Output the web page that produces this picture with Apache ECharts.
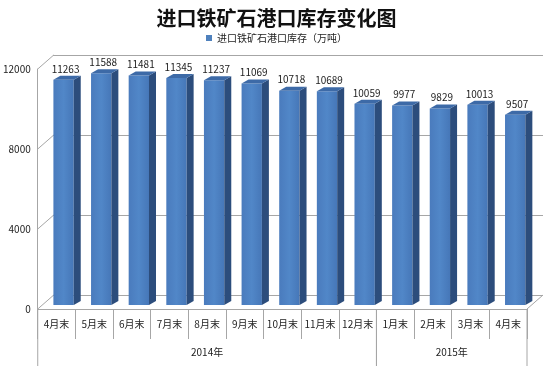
<!DOCTYPE html>
<html><head><meta charset="utf-8">
<script src="https://cdn.jsdelivr.net/npm/echarts@6/dist/echarts.min.js"></script>
<style>html,body{margin:0;padding:0;background:#fff}#c{width:553px;height:366px}</style>
</head><body><div id="c"></div>
<script>
var months = ['4月末','5月末','6月末','7月末','8月末','9月末','10月末','11月末','12月末','1月末','2月末','3月末','4月末'];
var values = [11263,11588,11481,11345,11237,11069,10718,10689,10059,9977,9829,10013,9507];
var years = ['2014年','2015年'];
var yearSpans = [[0,0,9],[9,0,13]];
var yTicks = [0,4000,8000,12000];
var seriesName = '进口铁矿石港口库存（万吨）';
var FONT = '"Noto Sans CJK SC", "Noto Sans", sans-serif';
var DX = 16, DY = -14;      // wall depth
var BX = 7, BY = -4;        // bar plane offset
var SX = 7, SY = -4;        // bar side depth
var grey = '#a6a6a6';

var chart = echarts.init(document.getElementById('c'));
chart.setOption({
  animation: false,
  backgroundColor: '#fff',
  textStyle: {fontFamily: FONT},
  title: {text: '进口铁矿石港口库存变化图', left: 'center', top: 3,
    textStyle: {fontSize: 20, fontWeight: 'bold', color: '#111', fontFamily: FONT}},
  legend: {top: 28, left: 'center', itemWidth: 6, itemHeight: 6, icon: 'rect',
    data: [seriesName], textStyle: {fontSize: 10, color: '#222', fontFamily: FONT}},
  grid: [
    {left: 37, right: 26, top: 69, bottom: 57},
    {left: 53, right: 10, top: 55, bottom: 71}
  ],
  xAxis: [
    {type: 'category', gridIndex: 0, data: months, boundaryGap: true,
     axisLine: {show: true, lineStyle: {color: grey}},
     axisTick: {show: true, interval: 0, length: 30, lineStyle: {color: grey}},
     axisLabel: {interval: 0, fontSize: 10, color: '#222', margin: 10, fontFamily: FONT},
     splitLine: {show: false}},
    {type: 'category', gridIndex: 1, data: months, show: false}
  ],
  yAxis: [
    {type: 'value', gridIndex: 0, min: 0, max: 12000, interval: 4000,
     axisLine: {show: true, lineStyle: {color: grey}},
     axisTick: {show: false},
     axisLabel: {fontSize: 10, color: '#222', margin: 7, fontFamily: FONT,
       formatter: function(v){return String(v);}},
     splitLine: {show: false}},
    {type: 'value', gridIndex: 1, min: 0, max: 12000, interval: 4000,
     axisLine: {show: false}, axisTick: {show: false}, axisLabel: {show: false},
     splitLine: {show: true, lineStyle: {color: grey, width: 1}}}
  ],
  series: [
    {
      type: 'custom', name: 'frame', xAxisIndex: 0, yAxisIndex: 0, silent: true, z: 1,
      data: yTicks.map(function(v){return [0, v];}),
      encode: {x: 0, y: 1},
      renderItem: function(params, api) {
        var cs = params.coordSys;
        var y = api.coord([0, api.value(1)])[1];
        var kids = [{type: 'line', shape: {x1: cs.x, y1: y, x2: cs.x + DX, y2: y + DY},
          style: {stroke: grey, lineWidth: 1}}];
        if (api.value(1) === 0) {
          kids.push({type: 'line', shape: {x1: cs.x + cs.width, y1: y, x2: cs.x + cs.width + DX, y2: y + DY},
            style: {stroke: grey, lineWidth: 1}});
        }
        return {type: 'group', children: kids};
      }
    },
    {
      type: 'custom', name: 'years', xAxisIndex: 0, yAxisIndex: 0, silent: true, z: 1,
      data: yearSpans, encode: {x: 0, y: 1},
      renderItem: function(params, api) {
        var cs = params.coordSys;
        var band = api.size([1, 0])[0];
        var x0 = api.coord([api.value(0), 0])[0] - band / 2;
        var x1 = api.coord([api.value(2) - 1, 0])[0] + band / 2;
        var y0 = cs.y + cs.height;
        return {type: 'group', children: [
          {type: 'line', shape: {x1: x0, y1: y0, x2: x0, y2: 366}, style: {stroke: grey, lineWidth: 1}},
          {type: 'line', shape: {x1: x1, y1: y0, x2: x1, y2: 366}, style: {stroke: grey, lineWidth: 1}},
          {type: 'text', x: (x0 + x1) / 2, y: y0 + 43, style: {text: years[params.dataIndex],
            align: 'center', verticalAlign: 'middle', fontSize: 10, fill: '#222', fontFamily: FONT}}
        ]};
      }
    },
    {
      type: 'custom', name: seriesName, xAxisIndex: 0, yAxisIndex: 0, z: 3,
      itemStyle: {color: '#4f81bd'},
      data: values,
      renderItem: function(params, api) {
        var idx = api.value(0), v = api.value(1);
        var top = api.coord([idx, v]);
        var base = api.coord([idx, 0]);
        var w = api.size([1, 0])[0] * 0.54;
        var cx = top[0] + BX;
        var l = cx - w / 2, r = cx + w / 2;
        var ty = top[1] + BY, by = base[1] + BY;
        return {type: 'group', children: [
          {type: 'rect', shape: {x: l, y: ty, width: w, height: by - ty},
            style: {fill: new echarts.graphic.LinearGradient(0, 0, 1, 0, [
              {offset: 0, color: '#4a7bbd'}, {offset: 0.5, color: '#5187c8'}, {offset: 1, color: '#4677b8'}])}},
          {type: 'polygon', shape: {points: [[r, ty], [r + SX, ty + SY], [r + SX, by + SY], [r, by]]},
            style: {fill: '#2c4d7c'}},
          {type: 'polygon', shape: {points: [[l, ty], [l + SX, ty + SY], [r + SX, ty + SY], [r, ty]]},
            style: {fill: '#3d6aa7'}},
          {type: 'text', x: cx + 2, y: ty + SY - 2, style: {text: String(v), align: 'center',
            verticalAlign: 'bottom', fontSize: 10, fill: '#222', fontFamily: FONT}}
        ]};
      }
    }
  ]
});
</script></body></html>
